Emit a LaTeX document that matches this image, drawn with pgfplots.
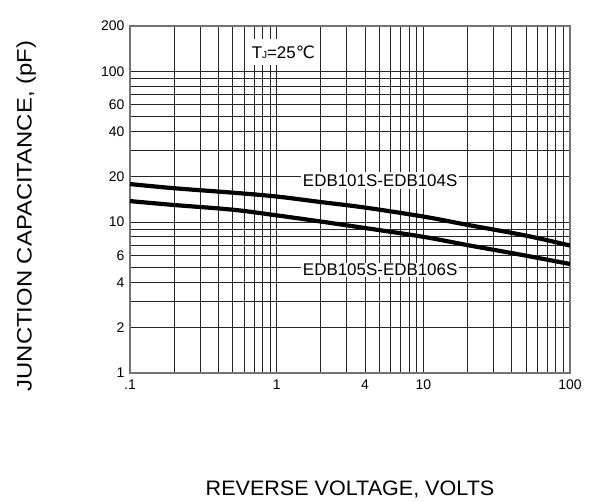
\documentclass[border=0pt]{standalone}
\usepackage{pgfplots}
\pgfplotsset{compat=1.18}
\usepackage{fontspec}
\setmainfont{Liberation Sans}
\newfontfamily\xlabfont[FakeStretch=1.03]{Liberation Sans}
\newfontfamily\ylabfont[FakeStretch=1.14]{Liberation Sans}
\newfontfamily\dejavu{DejaVu Sans}
\begin{document}
\begin{tikzpicture}
\useasboundingbox (-130bp,-129bp) rectangle (471bp,373bp);
\begin{axis}[
  at={(0,0)}, anchor=south west,
  scale only axis, width=440bp, height=347bp,
  xmode=log, ymode=log,
  xmin=0.1, xmax=100, ymin=1, ymax=200,
  xtick={0.1,1,4,10,100}, xticklabels={.1,1,4,10,100},
  ytick={1,2,4,6,10,20,40,60,100,200}, yticklabels={1,2,4,6,10,20,40,60,100,200},
  minor xtick={0.2,0.3,0.4,0.5,0.6,0.7,0.8,0.9,2,3,5,6,7,8,9,20,30,40,50,60,70,80,90},
  minor ytick={3,5,7,8,9,30,50,70,80,90},
  grid=both,
  major grid style={black!85, line width=0.7bp},
  minor grid style={black!85, line width=0.7bp},
  major tick length=0pt, minor tick length=0pt,
  axis line style={black!55, line width=1.2bp},
  /pgf/number format/assume math mode=true,
  tick label style={font=\fontsize{14}{14}\selectfont},
  xticklabel style={yshift=-3bp},
  yticklabel style={xshift=-2bp},
  xlabel={\xlabfont REVERSE VOLTAGE, VOLTS},
  ylabel={\ylabfont JUNCTION CAPACITANCE, (pF)},
  xlabel style={at={(axis description cs:0.5,-0.337)}, anchor=center, font=\fontsize{21}{21}\selectfont},
  ylabel style={at={(axis description cs:-0.236,0.452)}, anchor=center, font=\fontsize{21}{21}\selectfont},
]
\addplot[black, line width=4.2bp, smooth, tension=0.6] coordinates {
  (0.1,17.9) (0.2,16.8) (0.5,15.7) (1,14.8) (2,13.6) (4,12.5) (10,10.9) (20,9.6) (50,8.15) (100,7.0)
};
\addplot[black, line width=4.2bp, smooth, tension=0.6] coordinates {
  (0.1,13.8) (0.2,13.0) (0.5,12.1) (1,11.1) (2,10.1) (4,9.15) (10,8.0) (20,7.05) (50,6.0) (100,5.28)
};
\node[fill=white, inner xsep=2bp, inner ysep=2.5bp, font=\fontsize{17}{17}\selectfont] at (axis cs:5.08,18.8) {EDB101S-EDB104S};
\node[fill=white, inner xsep=1.5bp, inner ysep=1bp, font=\fontsize{17}{17}\selectfont] at (axis cs:5.08,4.82) {EDB105S-EDB106S};
\node[fill=white, inner xsep=3bp, inner ysep=7bp, font=\fontsize{17}{17}\selectfont] at (axis cs:1.11,134.6) {T{\fontsize{10}{10}\selectfont J}=25{\dejavu ℃}};
\end{axis}
\end{tikzpicture}
\end{document}
